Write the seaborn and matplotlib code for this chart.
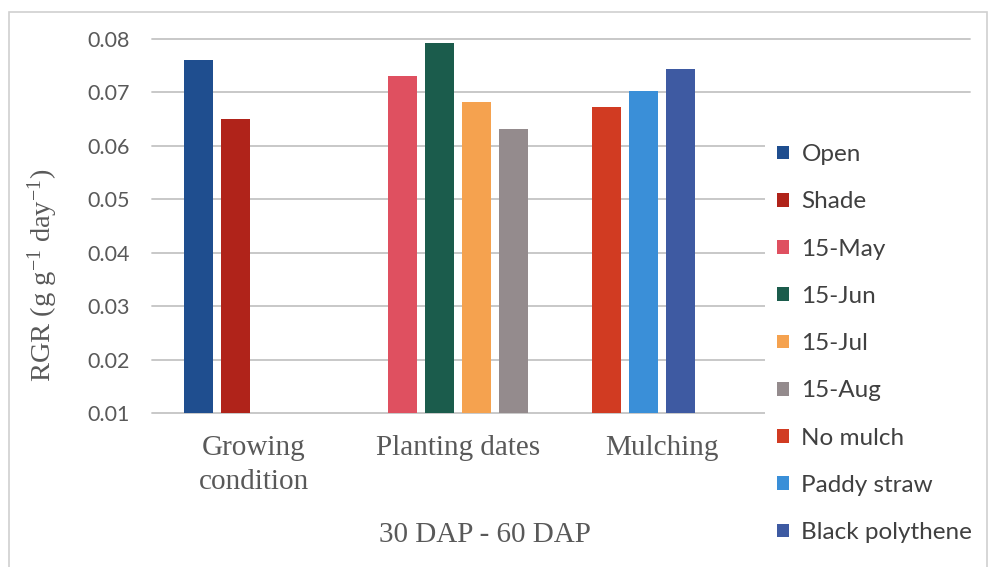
import matplotlib
matplotlib.use("Agg")
import matplotlib.pyplot as plt
from matplotlib.patches import Patch, Rectangle
import numpy as np
import pandas as pd
import seaborn as sns

# Values (RGR, 30-60 DAP)
groups = ["Growing\ncondition", "Planting dates", "Mulching"]
growing_names = ["Open", "Shade"]
growing_vals = [0.0760, 0.0651]
planting_names = ["15-May", "15-Jun", "15-Jul", "15-Aug"]
planting_vals = [0.0731, 0.0792, 0.0682, 0.0632]
mulch_names = ["No mulch", "Paddy straw", "Black polythene"]
mulch_vals = [0.0673, 0.0702, 0.0743]
colors = ["#1F4E8F", "#B0231A", "#DF5060", "#1B5C4C", "#F5A24F",
          "#948B8D", "#D13B22", "#3A8FD8", "#3E5AA2"]

# Build a long table: each bar gets a slot within its group
rows = []
for grp, names, vals in zip(groups,
                            [growing_names, planting_names, mulch_names],
                            [growing_vals, planting_vals, mulch_vals]):
    for i, (n, v) in enumerate(zip(names, vals)):
        rows.append({"group": grp, "slot": str(i + 1), "treatment": n, "rgr": v})
df = pd.DataFrame(rows)
all_names = growing_names + planting_names + mulch_names
color_map = dict(zip(all_names, colors))

sns.set_theme(style="white")
plt.rcParams["font.family"] = ["Lato", "DejaVu Sans"]
plt.rcParams["mathtext.fontset"] = "custom"
plt.rcParams["mathtext.rm"] = "Liberation Serif"
plt.rcParams["mathtext.it"] = "Liberation Serif"
plt.rcParams["mathtext.default"] = "regular"

fig = plt.figure(figsize=(9.89, 5.67), dpi=100)
ax = fig.add_axes([152 / 989, 1 - 413 / 567, (970 - 152) / 989, (413 - 39) / 567])

sns.barplot(data=df, x="group", y="rgr", hue="slot", order=groups,
            hue_order=["1", "2", "3", "4"], width=0.73, gap=0.22,
            palette=["#888888"] * 4, ax=ax, legend=False, saturation=1)

# Recolour each bar by matching its height to the treatment value
for p in ax.patches:
    h = p.get_height()
    match = df[np.isclose(df["rgr"], h)]
    if len(match):
        p.set_facecolor(color_map[match["treatment"].iloc[0]])
        p.set_edgecolor("none")

ax.set_xlim(-0.5, 3.51)
ax.set_ylim(0.01, 0.08)
ticks = np.arange(0.01, 0.081, 0.01)
ax.set_yticks(ticks)
ax.set_yticklabels([f"{t:.2f}" for t in ticks])
ax.yaxis.grid(True, color="#C4C4C4", linewidth=1.3)
for gl in ax.get_ygridlines():
    gl.set_clip_on(False)
ax.xaxis.grid(False)
for s in ["top", "right", "left", "bottom"]:
    ax.spines[s].set_visible(False)

ax.tick_params(axis="y", length=0, pad=16, labelsize=15.5, labelcolor="#595959")
ax.tick_params(axis="x", length=0, pad=16, labelcolor="#595959")
for lbl in ax.get_xticklabels():
    lbl.set_fontfamily("Liberation Serif")
    lbl.set_fontsize(21)
    lbl.set_linespacing(1.4)

ax.set_xlabel("30 DAP - 60 DAP", fontfamily="Liberation Serif", fontsize=21,
              color="#595959")
ax.xaxis.set_label_coords((485 - 152) / 818, -(522 - 413) / 374)
ax.set_ylabel(r"RGR (g g$^{\mathregular{-1}}$ day$^{\mathregular{-1}}$)",
              fontfamily="Liberation Serif", fontsize=20.5, color="#595959")
ax.yaxis.set_label_coords((60 - 152) / 818, (413 - 275) / 374)

# White legend area hides the lower gridlines on the right, as in the original
ax.add_patch(Rectangle((765 / 989, 0.0), (985 - 765) / 989, 1 - 130 / 567,
                       transform=fig.transFigure, facecolor="white",
                       edgecolor="none", clip_on=False, zorder=4))

handles = [Patch(facecolor=color_map[n], edgecolor="none", label=n) for n in all_names]
leg = ax.legend(handles=handles, loc="upper left",
                bbox_to_anchor=(765 / 989, 1 - 132 / 567),
                bbox_transform=fig.transFigure, frameon=False, fontsize=17.5,
                labelspacing=1.08, handlelength=0.5, handleheight=0.5,
                handletextpad=0.5, borderpad=0.5, borderaxespad=0)
leg.set_zorder(10)
for t in leg.get_texts():
    t.set_color("#404040")

# Outer chart border
fig.patches.append(Rectangle((9 / 989, -0.05), (987 - 9) / 989, 1 - 12 / 567 + 0.05,
                             transform=fig.transFigure, fill=False,
                             edgecolor="#D0D0D0", linewidth=1.2))

fig.savefig("out.png", dpi=100)
